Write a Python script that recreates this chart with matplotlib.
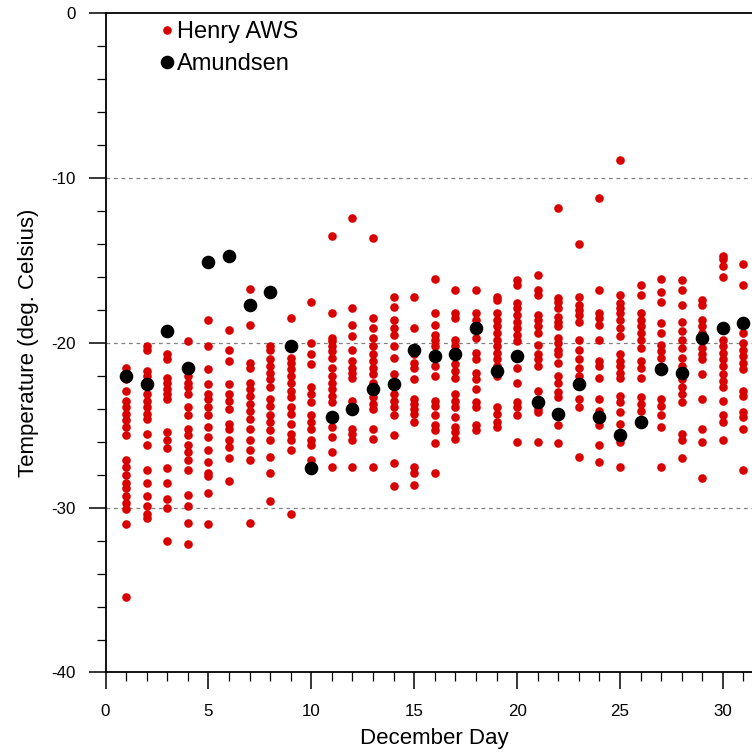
import matplotlib
matplotlib.use("Agg")
import matplotlib.pyplot as plt
from matplotlib.ticker import MultipleLocator

plt.rcParams['font.family'] = ['Liberation Sans', 'DejaVu Sans']
plt.rcParams['axes.unicode_minus'] = False

# December days 1..31
days = list(range(1, 32))

# Henry AWS readings per day (deg C)
henry_temps = [
    [-21.5, -22.2, -22.9, -23.5, -23.9, -24.3, -24.7, -25.1, -25.6, -27.1, -27.5, -28.0, -28.5, -28.8, -29.3, -29.7, -30.1, -31.0, -35.4],
    [-20.2, -20.4, -21.7, -22.0, -23.1, -23.5, -23.9, -24.3, -24.6, -25.5, -26.2, -27.7, -28.5, -29.3, -29.9, -30.4, -30.6],
    [-20.7, -21.0, -22.1, -22.4, -22.8, -23.1, -23.4, -25.4, -25.9, -26.4, -27.6, -28.5, -29.5, -30.0, -32.0],
    [-19.9, -22.0, -22.4, -22.7, -23.1, -23.9, -24.4, -25.2, -25.6, -26.2, -26.6, -27.1, -27.7, -29.2, -29.9, -30.9, -32.2],
    [-18.6, -20.2, -21.6, -22.5, -23.1, -23.4, -23.9, -24.4, -25.1, -25.7, -26.5, -27.2, -27.9, -28.1, -29.1, -31.0],
    [-19.2, -20.4, -21.1, -22.5, -23.1, -23.5, -24.0, -24.9, -25.2, -25.9, -26.3, -27.0, -28.4],
    [-16.7, -18.9, -21.2, -21.5, -22.4, -22.8, -23.2, -23.7, -24.1, -24.6, -25.2, -25.9, -26.5, -27.1, -30.9],
    [-20.2, -20.4, -21.0, -21.4, -21.8, -22.2, -22.7, -23.4, -23.8, -24.4, -24.8, -25.3, -25.9, -26.9, -27.9, -29.6],
    [-18.5, -20.9, -21.2, -21.6, -22.0, -22.4, -22.9, -23.3, -23.9, -24.3, -24.9, -25.5, -25.9, -26.5, -30.4],
    [-17.5, -20.0, -20.7, -21.3, -22.7, -23.1, -23.6, -24.4, -24.8, -25.2, -25.9, -26.2, -27.1],
    [-13.5, -18.2, -19.7, -19.9, -20.2, -20.5, -20.9, -21.5, -22.0, -22.4, -22.8, -23.2, -23.6, -25.1, -25.7, -26.6, -27.5],
    [-12.4, -17.9, -18.9, -19.6, -20.4, -21.1, -21.5, -21.8, -22.1, -23.5, -25.2, -25.5, -25.9, -27.5],
    [-13.6, -18.5, -19.1, -19.7, -20.2, -20.7, -21.1, -21.5, -21.9, -22.4, -23.3, -23.7, -24.0, -25.2, -25.8, -27.5],
    [-17.2, -17.8, -18.6, -19.1, -19.5, -20.2, -20.9, -21.9, -22.4, -23.1, -23.5, -23.9, -24.4, -25.6, -27.3, -28.7],
    [-17.2, -19.1, -20.7, -21.2, -21.5, -22.2, -23.4, -23.7, -24.0, -24.3, -24.8, -27.5, -27.9, -28.6],
    [-16.1, -18.2, -18.9, -19.5, -19.8, -20.2, -20.9, -21.4, -22.0, -23.5, -23.8, -24.4, -25.0, -25.3, -26.1, -27.9],
    [-16.8, -18.2, -18.5, -19.8, -20.2, -21.3, -21.7, -22.1, -23.1, -23.5, -23.9, -24.5, -25.1, -25.4, -25.8],
    [-16.8, -18.2, -18.6, -19.7, -20.6, -21.0, -21.8, -22.2, -22.8, -23.6, -23.9, -25.0, -25.3],
    [-17.2, -17.4, -18.2, -18.6, -19.0, -19.4, -19.8, -20.2, -20.6, -21.0, -21.4, -22.0, -23.9, -24.3, -24.8, -25.1],
    [-16.2, -16.5, -17.6, -17.9, -18.3, -18.7, -19.1, -19.5, -19.9, -20.8, -21.5, -22.4, -23.6, -23.9, -24.4, -26.0],
    [-15.9, -16.8, -17.1, -18.3, -18.6, -19.0, -19.4, -20.1, -20.7, -21.0, -21.4, -22.9, -24.0, -24.2, -26.0],
    [-11.8, -17.3, -17.5, -17.9, -18.4, -18.7, -19.0, -19.7, -20.0, -20.4, -20.7, -21.2, -22.0, -22.4, -23.0, -23.3, -25.0, -26.1],
    [-14.0, -17.2, -17.7, -18.0, -18.3, -18.7, -19.8, -20.4, -21.0, -21.5, -22.0, -23.4, -23.9, -26.9],
    [-11.2, -16.8, -18.2, -18.5, -18.9, -19.8, -21.1, -21.4, -22.1, -23.4, -24.1, -25.0, -26.2, -27.2],
    [-8.9, -17.1, -17.6, -17.9, -18.2, -18.6, -19.1, -19.6, -20.7, -21.1, -21.4, -21.8, -22.1, -23.2, -23.6, -24.2, -24.9, -26.0, -27.5],
    [-16.5, -17.1, -18.2, -18.6, -19.0, -19.4, -19.8, -20.3, -21.1, -21.5, -22.1, -23.3, -23.7, -24.1],
    [-16.1, -16.9, -17.5, -18.8, -19.4, -20.1, -20.5, -20.9, -23.4, -23.8, -24.4, -25.1, -27.5],
    [-16.2, -16.8, -17.7, -18.7, -19.3, -19.8, -20.3, -20.9, -21.4, -22.2, -22.7, -23.1, -23.6, -25.5, -25.9, -27.0],
    [-17.4, -17.7, -18.6, -19.0, -19.4, -19.9, -20.3, -20.7, -21.0, -21.9, -23.4, -25.2, -26.0, -28.2],
    [-14.7, -14.9, -15.3, -16.0, -19.8, -20.2, -20.6, -21.0, -21.4, -21.9, -22.3, -22.7, -23.5, -24.4, -24.8, -25.9],
    [-15.2, -16.5, -19.4, -20.0, -20.4, -20.8, -21.2, -21.6, -22.9, -23.2, -24.2, -24.5, -25.2, -27.7],
]

# Amundsen, one value per day
amundsen_temps = [-22.0, -22.5, -19.3, -21.5, -15.1, -14.7, -17.7, -16.9, -20.2, -27.6,
                  -24.5, -24.0, -22.8, -22.5, -20.4, -20.8, -20.7, -19.1, -21.7, -20.8,
                  -23.6, -24.3, -22.5, -24.5, -25.6, -24.8, -21.6, -21.8, -19.7, -19.1, -18.8]

fig = plt.figure(figsize=(7.52, 7.55), dpi=100)
# axes run past the right edge, like the cropped original
ax = fig.add_axes([0.1403, 0.1093, 0.8757, 0.8729])

hx = [d for d, temps in zip(days, henry_temps) for _ in temps]
hy = [t for temps in henry_temps for t in temps]
ax.plot(hx, hy, 'o', color='#d90000', ms=6.2, mec='none', label='Henry AWS')
ax.plot(days, amundsen_temps, 'o', color='black', ms=9.8, mec='none', label='Amundsen')

ax.set_xlim(0, 32)
ax.set_ylim(-40, 0)
ax.xaxis.set_major_locator(MultipleLocator(5))
ax.xaxis.set_minor_locator(MultipleLocator(1))
ax.yaxis.set_major_locator(MultipleLocator(10))
ax.yaxis.set_minor_locator(MultipleLocator(2))

for gy in [-10, -20, -30]:
    ax.axhline(gy, color='#808080', lw=0.9, ls=(0, (3, 3)), zorder=0)

ax.tick_params(which='major', direction='out', length=12, width=1.1, labelsize=12.2, pad=9.5)
ax.tick_params(which='minor', direction='out', length=6.7, width=0.9)
ax.tick_params(axis='x', which='major', pad=10.5)
for s in ax.spines.values():
    s.set_linewidth(1.3)

ax.set_xlabel('December Day', fontsize=16, labelpad=7)
ax.set_ylabel('Temperature (deg. Celsius)', fontsize=16, labelpad=9)

ax.legend(loc='upper left', bbox_to_anchor=(0.084, 0.988), frameon=False, fontsize=17,
          numpoints=1, handlelength=0.5, handletextpad=0.2, labelspacing=0.42,
          borderpad=0, borderaxespad=0)

fig.savefig('out.png', dpi=100)
